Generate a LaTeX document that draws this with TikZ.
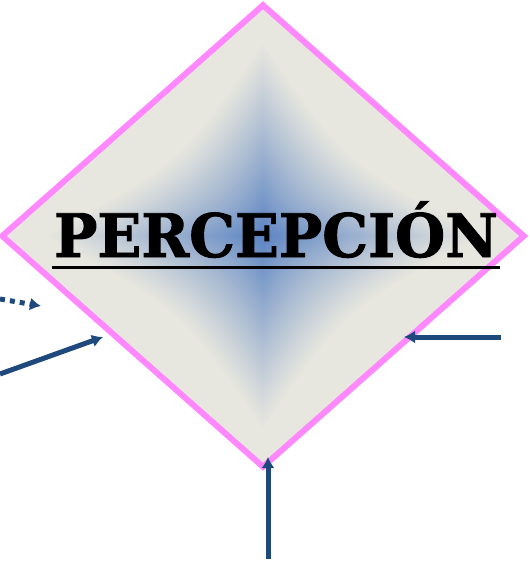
\documentclass[tikz,border=0pt]{standalone}
\usepackage{fontspec}
\setmainfont{DejaVu Serif}
\newfontfamily\titlefont{DejaVu Serif}[BoldFeatures={FakeBold=1.6}]
\usepackage{xcolor}
\usepackage{tikz}
\usetikzlibrary{arrows.meta, positioning, shapes.geometric}

\definecolor{edgepink}{HTML}{FF88FF}
\definecolor{arrowblue}{HTML}{1F497D}
\definecolor{coreblue}{HTML}{5A83C2}
\definecolor{paleedge}{HTML}{E8E7DF}

\begin{document}
\begin{tikzpicture}[
        x=1pt, y=-1pt,
        frame/.style={diamond, draw=edgepink, line width=6pt, inner sep=0pt, minimum width=524pt, minimum height=464pt},
        title/.style={font=\titlefont\bfseries\fontsize{60}{60}\selectfont, inner sep=0pt},
        arrow/.style={-{Latex[length=11pt, width=13pt]}, line width=5pt, arrowblue},
        dotarrow/.style={arrow, dash pattern=on 5pt off 5pt}
    ]
        \useasboundingbox (0,0) rectangle (529,561);

        % shading of the diamond, a soft four-pointed star from the edge inwards
        \fill[paleedge] (263,4) -- (525,236) -- (263,468) -- (1,236) -- cycle;
        \begin{scope}[shift={(263,236)}]
            \foreach \i in {0,...,60}{
                \pgfmathsetmacro{\s}{0.9*(1-\i/60)}
                \pgfmathsetmacro{\p}{100*(max(0.0001,1-\s/0.85))^1.1}
                \fill[coreblue!\p!paleedge] (0,-232*\s) .. controls (100*\s,-88*\s) .. (262*\s,0)
                    .. controls (100*\s,88*\s) .. (0,232*\s)
                    .. controls (-100*\s,88*\s) .. (-262*\s,0)
                    .. controls (-100*\s,-88*\s) .. cycle;
            }
        \end{scope}

        \node[frame] (percep) at (263,236) {};
        \node[title, anchor=base] (label) at (276,257) {\scalebox{0.96}[1]{PERCEPCIÓN}};
        \draw[line width=3pt, shorten <=-2pt, shorten >=-2pt] ([yshift=-10pt]label.base west) -- ([yshift=-10pt]label.base east);

        \coordinate (dotstart) at (0,299);
        \coordinate (dottip) at (41,306);
        \coordinate (leftstart) at (0,374);
        \coordinate (lefttip) at (103,337);
        \coordinate (rightstart) at (501,337);
        \coordinate (righttip) at (404,337);
        \coordinate (bottomstart) at (268,559);
        \coordinate (bottomtip) at (268,457);

        \draw[dotarrow] (dotstart) -- (dottip);
        \draw[arrow] (leftstart) -- (lefttip);
        \draw[arrow] (rightstart) -- (righttip);
        \draw[arrow] (bottomstart) -- (bottomtip);
    \end{tikzpicture}
\end{document}
